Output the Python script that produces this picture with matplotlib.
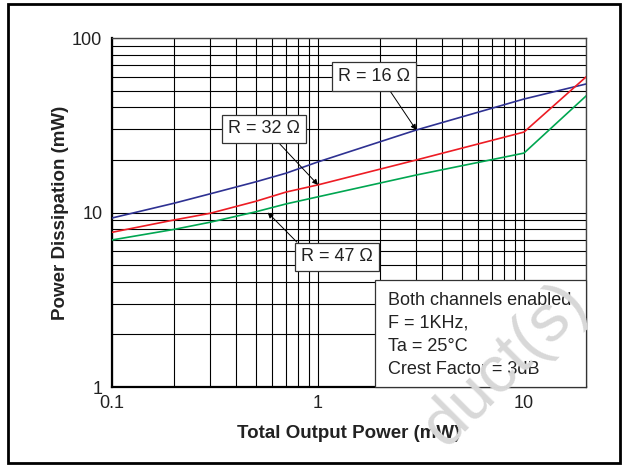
import matplotlib
matplotlib.use("Agg")
import matplotlib.pyplot as plt
from matplotlib.patches import Rectangle
from matplotlib.ticker import FixedLocator, NullFormatter

plt.rcParams['font.family'] = ['Liberation Sans', 'DejaVu Sans']

# output power (mW) and dissipation (mW) for each load
p_out = [0.1, 0.2, 0.3, 0.5, 0.7, 1, 3, 10, 20]
diss_16 = [9.3, 11.3, 12.8, 15.0, 16.8, 19.5, 29.7, 44.7, 54.5]
diss_32 = [7.7, 9.06, 9.9, 11.6, 13.1, 14.4, 20.0, 28.9, 59.8]
diss_47 = [6.96, 8.0, 8.8, 10.1, 11.2, 12.3, 16.4, 21.9, 46.5]

x_ticks = [0.1, 1, 10]
x_ticklabels = ['0.1', '1', '10']
y_ticks = [1, 10, 100]
y_ticklabels = ['1', '10', '100']
note_lines = ['Both channels enabled', 'F = 1KHz,', 'Ta = 25\u00b0C', 'Crest Factor = 3dB']

W, H = 626, 465
fig = plt.figure(figsize=(W / 100, H / 100), dpi=100)
ax = fig.add_axes([112 / W, 1 - 387 / H, (586 - 112) / W, (387 - 38) / H])

# outer frame around the whole figure
fig.patches.append(Rectangle((8 / W, 2 / H), (620 - 8) / W, (461 - 2) / H,
                             transform=fig.transFigure, fill=False,
                             edgecolor='black', lw=2.0, zorder=10))

ax.plot(p_out, diss_16, color='#2e3192', lw=1.2, zorder=3)
ax.plot(p_out, diss_32, color='#ed1c24', lw=1.2, zorder=3)
ax.plot(p_out, diss_47, color='#00a651', lw=1.2, zorder=3)

ax.set_xscale('log')
ax.set_yscale('log')
ax.set_xlim(0.1, 20)
ax.set_ylim(1, 100)

ax.xaxis.set_major_locator(FixedLocator(x_ticks))
ax.yaxis.set_major_locator(FixedLocator(y_ticks))
ax.set_xticklabels(x_ticklabels)
ax.set_yticklabels(y_ticklabels)
ax.xaxis.set_minor_formatter(NullFormatter())
ax.yaxis.set_minor_formatter(NullFormatter())
ax.tick_params(which='both', length=0, labelsize=13, colors='#222222')
ax.tick_params(axis='x', pad=6)
ax.tick_params(axis='y', pad=7)

ax.grid(True, which='both', color='black', lw=0.8, zorder=1)
ax.set_axisbelow(True)
for side in ['left', 'bottom']:
    ax.spines[side].set_linewidth(1.6)
for side in ['top', 'right']:
    ax.spines[side].set_linewidth(1.0)
    ax.spines[side].set_color('#444444')

ax.set_xlabel('Total Output Power (mW)', fontsize=13.5, fontweight='bold',
              color='#222222', labelpad=9)
ax.set_ylabel('Power Dissipation (mW)', fontsize=13.5, fontweight='bold',
              color='#222222', labelpad=2)

box = dict(boxstyle='square,pad=0.33', fc='white', ec='#333333', lw=0.9)
arrow = dict(arrowstyle='-|>', color='black', lw=0.7, mutation_scale=8,
             shrinkA=0, shrinkB=0)

ax.annotate('R = 16 \u03a9', xy=(3.0, 29.7), xytext=(1.865, 60.2),
            ha='center', va='center', fontsize=13, color='#222222', bbox=box,
            arrowprops=dict(arrow, relpos=(0.67, 0)), zorder=5)
ax.annotate('R = 32 \u03a9', xy=(1.0, 14.4), xytext=(0.545, 30.1),
            ha='center', va='center', fontsize=13, color='#222222', bbox=box,
            arrowprops=dict(arrow, relpos=(0.64, 0)), zorder=5)
ax.annotate('R = 47 \u03a9', xy=(0.57, 10.0), xytext=(1.235, 5.56),
            ha='center', va='center', fontsize=13, color='#222222', bbox=box,
            arrowprops=dict(arrow, relpos=(0.03, 1)), zorder=5)

# test conditions box in the lower right corner
ax.add_patch(Rectangle(((375 - 112) / 474, 0), 1 - (375 - 112) / 474,
                       (387 - 280) / 349, transform=ax.transAxes,
                       fc='white', ec='#333333', lw=0.9, zorder=4,
                       clip_on=False))
ax.text((388 - 112) / 474, (387 - 292) / 349, '\n'.join(note_lines),
        transform=ax.transAxes, ha='left', va='top', fontsize=13,
        color='#222222', linespacing=1.45, zorder=6)

# faint watermark across the corner
fig.text(505 / W, 1 - 365 / H, 'duct(s)', fontsize=48, color='#d8d8d8',
         rotation=45, ha='center', va='center', zorder=20)

fig.savefig('out.png', dpi=100)
